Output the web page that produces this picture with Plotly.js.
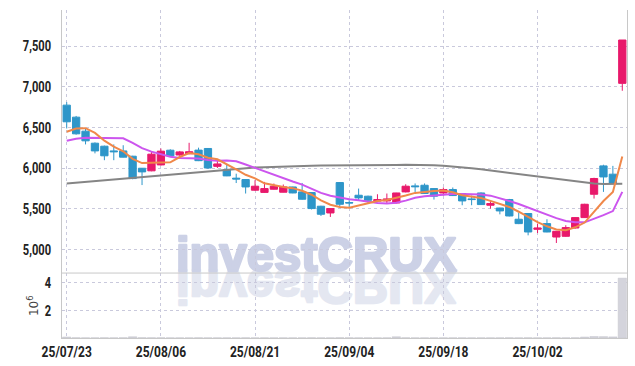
<!DOCTYPE html>
<html>
<head>
<meta charset="utf-8">
<script src="https://cdn.plot.ly/plotly-3.0.1.min.js"></script>
<style>
html,body{margin:0;padding:0;background:#fff;}
#chart{width:635px;height:366px;}
</style>
</head>
<body>
<div id="chart"></div>
<script>
const dates = ["25/07/23","25/07/24","25/07/25","25/07/28","25/07/29","25/07/30","25/07/31","25/08/01","25/08/04","25/08/05",
"25/08/06","25/08/07","25/08/08","25/08/11","25/08/12","25/08/13","25/08/14","25/08/18","25/08/19","25/08/20",
"25/08/21","25/08/22","25/08/25","25/08/26","25/08/27","25/08/28","25/08/29","25/09/01","25/09/02","25/09/03",
"25/09/04","25/09/05","25/09/08","25/09/09","25/09/10","25/09/11","25/09/12","25/09/15","25/09/16","25/09/17",
"25/09/18","25/09/19","25/09/22","25/09/23","25/09/24","25/09/25","25/09/26","25/09/29","25/09/30","25/10/01",
"25/10/02","25/10/10","25/10/13","25/10/14","25/10/15","25/10/16","25/10/17","25/10/20","25/10/21","25/10/22"];

const openP = [6773,6625,6453,6305,6268,6210,6210,6145,5997,5965,
6038,6219,6160,6175,6220,6240,6020,5980,5875,5858,
5727,5700,5739,5702,5767,5706,5698,5530,5447,5821,
5575,5665,5653,5594,5595,5570,5706,5780,5788,5747,
5693,5735,5686,5620,5693,5542,5508,5612,5370,5440,
5246,5316,5151,5160,5262,5390,5677,6026,5924,7041];

const highP = [6810,6640,6486,6315,6275,6290,6280,6150,6000,6198,
6240,6230,6210,6310,6250,6245,6090,6043,5930,5860,
5850,5829,5809,5797,5770,5816,5700,5535,5505,5825,
5603,5747,5660,5677,5686,5695,5800,5810,5810,5750,
5760,5760,5690,5660,5700,5603,5510,5620,5452,5445,
5316,5370,5225,5296,5395,5560,5880,6040,6026,7574];

const lowP = [6486,6410,6290,6180,6096,6096,6130,5862,5790,5960,
6030,6145,6150,6170,6085,5990,6000,5900,5815,5686,
5720,5695,5735,5700,5690,5610,5490,5410,5398,5521,
5520,5603,5563,5590,5563,5565,5700,5705,5680,5612,
5660,5655,5542,5542,5545,5500,5430,5405,5310,5172,
5200,5210,5078,5155,5255,5385,5624,5706,5810,6950];

const closeP = [6568,6420,6334,6210,6150,6200,6133,5870,5952,6170,
6207,6150,6198,6200,6090,6000,6050,5903,5865,5767,
5776,5747,5776,5767,5693,5616,5501,5431,5501,5554,
5570,5632,5603,5612,5620,5693,5776,5770,5686,5653,
5735,5661,5595,5612,5550,5563,5472,5410,5316,5213,
5262,5213,5222,5267,5390,5554,5871,5890,5817,7574];

const ma5 = [6445,6486,6490,6432,6336,6263,6205,6113,6061,6065,
6066,6070,6135,6184,6168,6127,6107,6049,5982,5917,
5872,5812,5786,5767,5752,5720,5671,5602,5548,5521,
5511,5538,5572,5594,5607,5632,5661,5694,5709,5716,
5724,5701,5666,5651,5631,5596,5558,5521,5462,5395,
5335,5283,5245,5235,5271,5329,5461,5594,5704,6141];

const ma10 = [6334,6360,6371,6371,6371,6371,6365,6310,6245,6201,
6165,6138,6124,6123,6117,6097,6088,6092,6083,6043,
6000,5959,5917,5874,5834,5796,5741,5694,5658,5636,
5616,5604,5587,5571,5564,5572,5599,5633,5652,5662,
5678,5681,5680,5680,5673,5660,5630,5594,5557,5513,
5465,5421,5383,5349,5333,5332,5372,5420,5470,5706];

const maLong = [5810,5820,5830,5840,5850,5858,5866,5875,5885,5895,
5905,5915,5925,5938,5950,5962,5972,5982,5990,5998,
6005,6010,6015,6020,6024,6027,6028,6030,6030,6030,
6030,6031,6032,6034,6036,6038,6040,6040,6038,6034,
6028,6020,6010,5998,5985,5970,5955,5940,5925,5910,
5895,5880,5862,5845,5830,5818,5808,5802,5800,5805];

const volume = [70000,20000,15000,15000,20000,15000,20000,90000,25000,20000,
20000,15000,15000,15000,20000,15000,15000,15000,15000,20000,
15000,15000,12000,15000,15000,15000,20000,15000,15000,25000,
20000,15000,15000,12000,15000,90000,20000,15000,15000,15000,
15000,15000,15000,12000,15000,15000,15000,20000,15000,20000,
15000,15000,20000,15000,20000,70000,110000,100000,80000,4330000];

const priceTicks = [5000,5500,6000,6500,7000,7500];
const volTicks = [2000000,4000000];
const volTickText = ["2","4"];
const xTickIdx = [0,10,20,30,40,50];
const xTickVals = xTickIdx.map(i => dates[i]);

const tickFont = {family:"Roboto, sans-serif", size:15, color:'#222', weight:'bold'};
const gridCol = '#c9c9dc';

const data = [
  {type:'bar', x:dates, y:volume, xaxis:'x', yaxis:'y2',
   marker:{color:'#d4d4dc', line:{color:'#c4c4cc', width:0.5}}, hoverinfo:'skip'},
  {type:'scatter', mode:'lines', x:dates, y:maLong, xaxis:'x', yaxis:'y',
   line:{color:'#858585', width:2}, hoverinfo:'skip'},
  {type:'scatter', mode:'lines', x:dates, y:ma10, xaxis:'x', yaxis:'y',
   line:{color:'#cc55ee', width:2}, hoverinfo:'skip'},
  {type:'scatter', mode:'lines', x:dates, y:ma5, xaxis:'x', yaxis:'y',
   line:{color:'#f0884a', width:2}, hoverinfo:'skip'},
  {type:'candlestick', x:dates, open:openP, high:highP, low:lowP, close:closeP,
   xaxis:'x', yaxis:'y',
   increasing:{line:{color:'#e8196b', width:1}, fillcolor:'#e8196b'},
   decreasing:{line:{color:'#2e96c9', width:1}, fillcolor:'#2e96c9'},
   whiskerwidth:0, hoverinfo:'skip'}
];

const layout = {
  width:635, height:366,
  margin:{l:62, r:8, t:10, b:28, pad:0},
  paper_bgcolor:'#ffffff', plot_bgcolor:'#ffffff',
  showlegend:false, bargap:0.12, boxgap:0.12, boxgroupgap:0.12,
  xaxis:{type:'category', range:[-0.5,59.5], anchor:'y2',
    tickmode:'array', tickvals:xTickVals, ticktext:xTickVals, tickfont:tickFont,
    showgrid:true, gridcolor:gridCol, griddash:'dot', gridwidth:1,
    showline:true, linecolor:'#c8c8c8', linewidth:1, ticks:'',
    rangeslider:{visible:false}, fixedrange:true},
  yaxis:{domain:[0.198,1], range:[4708,7943], tickmode:'array', tickvals:priceTicks,
    tickformat:',d', tickfont:tickFont, showgrid:true, gridcolor:gridCol, griddash:'dot',
    zeroline:false, showline:true, mirror:true, linecolor:'#c8c8c8', ticks:'outside', ticklen:7, tickcolor:'rgba(0,0,0,0)'},
  yaxis2:{domain:[0,0.198], range:[0,4700000], tickmode:'array', tickvals:volTicks, ticktext:volTickText,
    tickfont:tickFont, showgrid:true, gridcolor:gridCol, griddash:'dot', zeroline:false,
    showline:true, mirror:true, linecolor:'#c8c8c8', ticks:'outside', ticklen:7, tickcolor:'rgba(0,0,0,0)'},
  shapes:[{type:'line', xref:'paper', yref:'paper', x0:0, x1:1, y0:0.198, y1:0.198,
    line:{color:'#c8c8c8', width:1}}],
  annotations:[
    {xref:'paper', yref:'paper', x:0.4504, y:0.257, xanchor:'center', yanchor:'middle',
     text:'investCRUX', showarrow:false,
     font:{family:'Liberation Sans', size:49, weight:'bold', color:'#ccd1e6'}},
    {xref:'paper', yref:'paper', x:0.4504, y:0.257, xanchor:'center', yanchor:'middle',
     text:'investCRUX', showarrow:false,
     font:{family:'Liberation Sans', size:49, weight:'bold', color:'#e4e7f1'}},
    {xref:'paper', yref:'paper', x:-0.051, y:0.098, xanchor:'center', yanchor:'middle',
     text:'10<sup>6</sup>', showarrow:false, textangle:-90,
     font:{family:'DejaVu Sans', size:12, color:'#444'}}
  ]
};

function squeeze(el, s, mode) {
  const bb = el.getBBox();
  const ax = mode === 'end' ? bb.x + bb.width : bb.x + bb.width / 2;
  const t = el.getAttribute('transform') || '';
  el.setAttribute('transform', t + ' translate(' + ax + ',0) scale(' + s + ',1) translate(' + (-ax) + ',0)');
}

Plotly.newPlot('chart', data, layout, {staticPlot:true, displayModeBar:false}).then(gd => {
  const anns = gd.querySelectorAll('g.annotation');
  const below = gd.querySelector('.layer-below');
  for (let k = 0; k < 2 && k < anns.length; k++) {
    const txt = anns[k].querySelector('text');
    if (!txt) continue;
    txt.style.stroke = k === 0 ? '#ccd1e6' : '#e4e7f1';
    txt.style.strokeWidth = '2.5px';
    txt.style.strokeLinejoin = 'round';
    if (k === 1) {
      const bb = txt.getBBox();
      const base = bb.y + bb.height - 0.212 * 49;
      txt.setAttribute('transform', 'translate(0,' + (2 * base) + ') scale(1,-1)');
    }
  }
  if (below) {
    const a0 = anns[0], a1 = anns[1];
    if (a1) below.appendChild(a1);
    if (a0) below.appendChild(a0);
  }
  gd.querySelectorAll('.ytick text, .y2tick text').forEach(el => squeeze(el, 0.74, 'end'));
  gd.querySelectorAll('.xtick text').forEach(el => squeeze(el, 0.8, 'middle'));
});
</script>
</body>
</html>
